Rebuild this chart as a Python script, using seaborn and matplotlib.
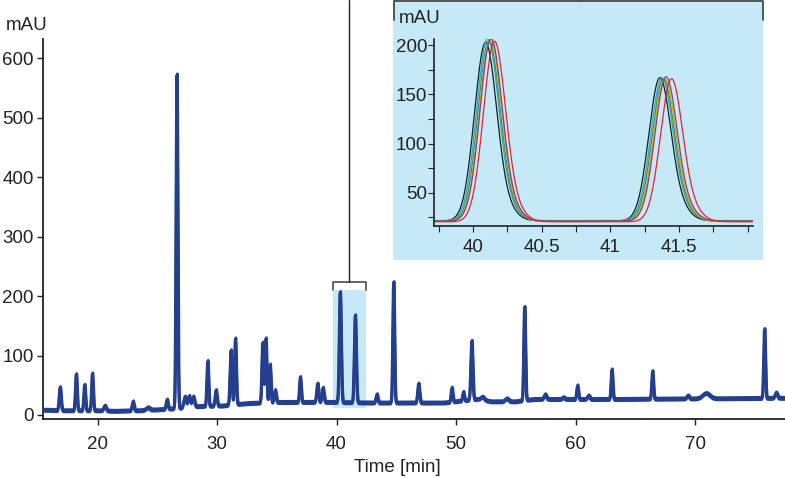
import numpy as np
import pandas as pd
import matplotlib
matplotlib.use("Agg")
import matplotlib.pyplot as plt
from matplotlib.lines import Line2D
from matplotlib.patches import Rectangle
import seaborn as sns

# ---------------- data ----------------
# main chromatogram: peak table (retention time [min], apex [mAU], width sigma [min])
peak_times = [16.85, 18.2, 18.9, 19.55, 20.6, 22.95, 24.2, 25.8, 26.62, 27.3, 27.65, 28.0,
              29.2, 29.9, 31.15, 31.52, 33.8, 34.07, 34.42, 34.85, 36.95, 38.4, 38.85,
              40.29, 41.55, 43.36, 44.76, 46.85, 49.64, 50.6, 51.3, 52.2, 54.24, 55.72,
              57.45, 58.98, 60.15, 61.07, 63.03, 66.43, 69.39, 70.92, 75.8, 76.78]
peak_heights = [46, 68, 50, 69, 15, 22, 12, 25, 572, 30, 31, 30,
                90, 41, 108, 128, 121, 128, 84, 41, 63, 52, 45,
                206, 167, 34, 223, 52, 45, 38, 124, 30, 27, 181,
                34, 29, 49, 32, 76, 73, 32, 36, 144, 37]
peak_sigmas = [0.08, 0.07, 0.07, 0.07, 0.1, 0.08, 0.15, 0.08, 0.07, 0.1, 0.1, 0.1,
               0.07, 0.08, 0.08, 0.07, 0.07, 0.07, 0.07, 0.08, 0.07, 0.08, 0.08,
               0.08, 0.08, 0.08, 0.07, 0.08, 0.07, 0.07, 0.08, 0.15, 0.15, 0.07,
               0.1, 0.1, 0.07, 0.1, 0.07, 0.07, 0.1, 0.3, 0.07, 0.1]
baseline_times = [15.4, 17, 20, 21.5, 23.5, 25.5, 26.3, 28.5, 30.5, 32.5, 35.5, 39.5,
                  43, 46, 49, 51.8, 53, 55, 56.5, 63.5, 77.7]
baseline_values = [8, 7, 7, 6, 7, 9, 10, 14, 15, 19, 21, 21,
                   20, 20, 20, 26, 22, 22, 26, 26, 28]
run_shifts = [0.0, 0.03, 0.06]
run_offsets = [0.0, -2.0, 2.0]

# inset: six overlaid runs, two peaks each
inset_colors = ['#1a1a1a', '#1aa7e0', '#3b9a3f', '#dba100', '#8b3a8f', '#e3262b']
inset_p1_t = [40.09, 40.105, 40.115, 40.125, 40.13, 40.155]
inset_p1_h = [203, 207, 205, 206, 207, 204]
inset_p2_t = [41.36, 41.375, 41.385, 41.395, 41.405, 41.445]
inset_p2_h = [167, 167, 166, 166, 168, 166]
inset_base = [21.5, 21.8, 21.2, 21.0, 21.3, 20.6]

x_ticks = [20, 30, 40, 50, 60, 70]
y_ticks = [0, 100, 200, 300, 400, 500, 600]
inset_x_ticks = [40, 40.5, 41, 41.5]
inset_x_labels = ['40', '40.5', '41', '41.5']
inset_y_ticks = [50, 100, 150, 200]

# ---------------- build traces ----------------
t = np.linspace(15.4, 77.7, 5000)
main_rows = []
for r, (sh, off) in enumerate(zip(run_shifts, run_offsets)):
    base = np.interp(t, baseline_times, baseline_values) + off
    y = base.copy()
    for pt, ph, ps in zip(peak_times, peak_heights, peak_sigmas):
        amp = ph - np.interp(pt, baseline_times, baseline_values)
        y += amp * np.exp(-0.5 * ((t - pt - sh) / ps) ** 2)
    main_rows.append(pd.DataFrame({'time': t, 'mAU': y, 'run': r}))
main_df = pd.concat(main_rows)

ti = np.linspace(39.7, 42.05, 1500)
inset_rows = []
for r in range(len(inset_colors)):
    y = np.full_like(ti, inset_base[r])
    for pt, ph in ((inset_p1_t[r], inset_p1_h[r]), (inset_p2_t[r], inset_p2_h[r])):
        amp = ph - inset_base[r]
        y += (amp - 2) * np.exp(-0.5 * ((ti - pt) / 0.08) ** 2)
        y += 10 * np.exp(-0.5 * ((ti - pt - 0.15) / 0.08) ** 2)
    inset_rows.append(pd.DataFrame({'time': ti, 'mAU': y, 'run': r}))
inset_df = pd.concat(inset_rows)

# ---------------- figure ----------------
sns.set_style('ticks')
plt.rcParams['font.family'] = ['Liberation Sans Narrow', 'Liberation Sans', 'DejaVu Sans']
FS = 13.5
W, H = 785, 478
fig = plt.figure(figsize=(W / 100, H / 100), dpi=100)

def fx(px):
    return px / W

def fy(py):
    return 1 - py / H

blue_fill = '#c6e9f8'
line_blue = '#243f8e'
dark = '#222222'

# inset background panel
fig.patches.append(Rectangle((fx(393), fy(260)), fx(763) - fx(393), fy(0) - fy(260),
                             transform=fig.transFigure, facecolor=blue_fill,
                             edgecolor='none', zorder=-5))

ax = fig.add_axes([fx(43.3), fy(419.3), fx(785) - fx(43.3), fy(39.3) - fy(419.3)])
ax.set_facecolor('none')
ax.set_xlim(15.46, 77.53)
ax.set_ylim(-7.3, 632)

# highlighted region
ax.add_patch(Rectangle((39.67, 11.3), 42.44 - 39.67, 210 - 11.3, facecolor=blue_fill,
                       edgecolor='none', zorder=0))

sns.lineplot(data=main_df, x='time', y='mAU', units='run', estimator=None,
             color=line_blue, lw=1.9, ax=ax, zorder=3)

ax.set_xticks(x_ticks)
ax.set_yticks(y_ticks)
ax.set_xlabel('')
ax.set_ylabel('')
for s in ['top', 'right']:
    ax.spines[s].set_visible(False)
for s in ['left', 'bottom']:
    ax.spines[s].set_linewidth(1.3)
    ax.spines[s].set_color(dark)
ax.tick_params(axis='both', direction='out', length=4, width=1, colors=dark,
               labelsize=FS, labelcolor=dark)
ax.tick_params(axis='x', pad=8)
ax.tick_params(axis='y', pad=3)

fig.text(fx(27), fy(25), 'mAU', ha='center', va='center', fontsize=FS, color=dark)
fig.text(fx(397), fy(467), 'Time [min]', ha='center', va='center', fontsize=FS, color=dark)

# bracket over the highlighted region and connector
gray = '#4a4a4a'
ax.plot([39.67, 39.67, 42.44, 42.44], [210, 224, 224, 210], color=gray, lw=1.2,
        clip_on=False, zorder=4)
fig.add_artist(Line2D([fx(349), fx(349)], [fy(281.7), fy(0)], color=dark, lw=1.0))

# bracket on the inset panel
fig.add_artist(Line2D([fx(393.5), fx(393.5), fx(762.5), fx(762.5)],
                      [fy(20), fy(1.2), fy(1.2), fy(20)], color=gray, lw=1.3))
fig.add_artist(Line2D([fx(578), fx(578)], [fy(1.2), fy(0)], color=gray, lw=1.0))

# ---------------- inset ----------------
axi = fig.add_axes([fx(434), fy(226), fx(753) - fx(434), fy(39.3) - fy(226)])
axi.set_facecolor('none')
axi.set_zorder(5)
for r, c in enumerate(inset_colors):
    sub = inset_df[inset_df['run'] == r]
    sns.lineplot(data=sub, x='time', y='mAU', color=c, lw=0.9, ax=axi)
axi.set_xlim(39.715, 42.04)
axi.set_ylim(16.3, 205.8)
axi.set_xticks(inset_x_ticks)
axi.set_xticklabels(inset_x_labels)
axi.set_xticks([39.75, 40.25, 40.75, 41.25, 41.75, 42.0], minor=True)
axi.set_yticks(inset_y_ticks)
axi.set_yticks([25, 75, 125, 175], minor=True)
axi.set_xlabel('')
axi.set_ylabel('')
for s in ['top', 'right']:
    axi.spines[s].set_visible(False)
for s in ['left', 'bottom']:
    axi.spines[s].set_linewidth(1.2)
    axi.spines[s].set_color(dark)
axi.tick_params(which='both', direction='out', width=0.8, colors=dark,
                labelsize=FS, labelcolor=dark)
axi.tick_params(which='major', length=4)
axi.tick_params(which='minor', length=4)
axi.tick_params(axis='x', which='both', pad=5)
axi.tick_params(axis='y', which='both', pad=1)
fig.text(fx(420), fy(18.5), 'mAU', ha='center', va='center', fontsize=FS, color=dark)

fig.savefig('out.png', dpi=100)
